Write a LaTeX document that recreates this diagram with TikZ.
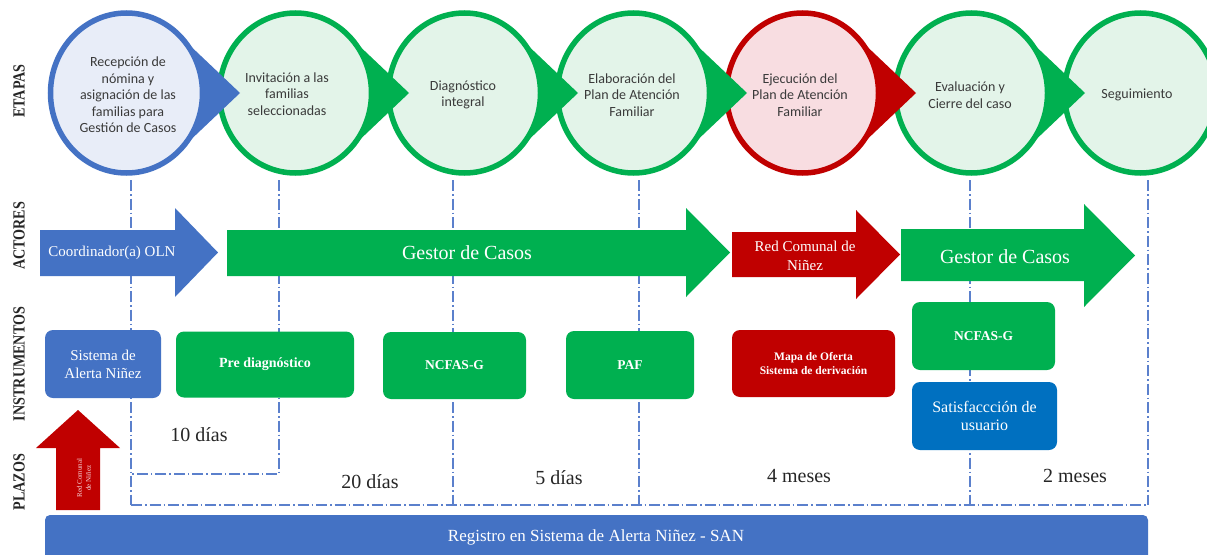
\documentclass[tikz,border=0pt]{standalone}
\usepackage{fontspec}
\setmainfont{Liberation Serif}
\newfontfamily\cali{Carlito}
\usetikzlibrary{shapes.geometric,calc}
\definecolor{bl}{HTML}{4472C4}
\definecolor{gr}{HTML}{00B050}
\definecolor{rd}{HTML}{C00000}
\definecolor{sb}{HTML}{0070C0}
\definecolor{bll}{HTML}{E8EDF8}
\definecolor{grl}{HTML}{E3F4E9}
\definecolor{rdl}{HTML}{F8DDE1}
\definecolor{txt}{HTML}{3A3A3A}
\definecolor{dl}{HTML}{5B80CC}
\definecolor{dark}{HTML}{262626}
\begin{document}
\begin{tikzpicture}[x=1pt,y=-1pt,
  stage/.style={ellipse, draw, line width=5.5pt, minimum width=152pt, minimum height=160pt, inner sep=0pt},
  stxt/.style={font=\cali\fontsize{14}{16.5}\selectfont, text=txt, align=center},
  guide/.style={dl, line width=1.3pt, dash pattern=on 11pt off 3pt on 1.5pt off 3pt},
  inst/.style={rectangle, rounded corners=8pt, inner sep=0pt, text=white, align=center},
  lab/.style={rotate=90, font=\bfseries\fontsize{17}{17}\selectfont, text=dark},
  plazo/.style={font=\fontsize{20}{20}\selectfont, text=dark},
  actor/.style={text=white, align=center}
]
\useasboundingbox (0,0) rectangle (1207,554);
\fill[white] (0,0) rectangle (1207,554);

% guide lines (behind)
\coordinate (g1t) at (131,180); \coordinate (g1b) at (131,505);
\coordinate (g2t) at (279,180); \coordinate (g2b) at (279,474); \coordinate (g2e) at (131,474);
\coordinate (g3t) at (453,180); \coordinate (g3b) at (453,505);
\coordinate (g4t) at (639,180); \coordinate (g4b) at (639,505);
\coordinate (g5t) at (970,180); \coordinate (g5b) at (970,505);
\coordinate (g6t) at (1148,180); \coordinate (g6b) at (1148,505);
\draw[guide] (g1t) -- (g1b);
\draw[guide] (g2t) -- (g2b) -- (g2e);
\draw[guide] (g3t) -- (g3b);
\draw[guide] (g4t) -- (g4b);
\draw[guide] (g5t) -- (g5b);
\draw[guide] (g6t) -- (g6b);
\draw[guide] (g1b) -- (g6b);

% stages
\node[stage, draw=gr, fill=grl] (s7) at (1140.5,93) {};
\node[stage, draw=gr, fill=grl] (s6) at (971.5,93) {};
\node[stage, draw=rd, fill=rdl] (s5) at (802.5,93) {};
\node[stage, draw=gr, fill=grl] (s4) at (633.5,93) {};
\node[stage, draw=gr, fill=grl] (s3) at (464.5,93) {};
\node[stage, draw=gr, fill=grl] (s2) at (295.5,93) {};
\node[stage, draw=bl, fill=bll] (s1) at (126.5,93) {};
\foreach \i/\c in {1/bl,2/gr,3/gr,4/gr,5/rd,6/gr}{
  \fill[\c] ($(s\i.center)+(50.85,59.45)$) -- ($(s\i.center)+(113.5,0)$) -- ($(s\i.center)+(50.85,-59.45)$)
     arc[start angle=-48, end angle=48, x radius=76, y radius=80];
}
\node[stxt] (t1) at (128,95) {Recepción de\\nómina y\\asignación de las\\familias para\\Gestión de Casos};
\node[stxt] (t2) at (287,94) {Invitación a las\\familias\\seleccionadas};
\node[stxt] (t3) at (463,95) {Diagnóstico\\integral};
\node[stxt] (t4) at (632,95) {Elaboración del\\Plan de Atención\\Familiar};
\node[stxt] (t5) at (800,95) {Ejecución del\\Plan de Atención\\Familiar};
\node[stxt] (t6) at (970,95) {Evaluación y\\Cierre del caso};
\node[stxt] (t7) at (1137,95) {Seguimiento};

% actors
\fill[bl] (40,230)--(175,230)--(175,208)--(218,252.5)--(175,297)--(175,276)--(40,276)--cycle;
\fill[gr] (227,230)--(686,230)--(686,208)--(730,252.5)--(686,297)--(686,276)--(227,276)--cycle;
\fill[rd] (732,232)--(856,232)--(856,210)--(900,254.5)--(856,299)--(856,277)--(732,277)--cycle;
\fill[gr] (901,229)--(1084,229)--(1084,204)--(1135,255.5)--(1084,307)--(1084,281)--(901,281)--cycle;
\node[actor, font=\fontsize{15}{15}\selectfont] (a1) at (112,253) {Coordinador(a) OLN};
\node[actor, font=\fontsize{20}{20}\selectfont] (a2) at (467,253) {Gestor de Casos};
\node[actor, font=\fontsize{15}{19}\selectfont] (a3) at (805,255.5) {Red Comunal de\\Niñez};
\node[actor, font=\fontsize{20}{20}\selectfont] (a4) at (1005,257) {Gestor de Casos};

% instruments
\node[inst, fill=bl, minimum width=116pt, minimum height=68pt, font=\fontsize{15}{18}\selectfont] (i1) at (103,364) {Sistema de\\Alerta Niñez};
\node[inst, fill=gr, minimum width=178pt, minimum height=66pt, font=\bfseries\fontsize{14}{17}\selectfont] (i2) at (265,364.5) {Pre diagnóstico};
\node[inst, fill=gr, minimum width=143pt, minimum height=67pt, font=\bfseries\fontsize{13.5}{17}\selectfont] (i3) at (454.5,365.5) {NCFAS-G};
\node[inst, fill=gr, minimum width=128pt, minimum height=68pt, font=\bfseries\fontsize{13.5}{17}\selectfont] (i4) at (630,365) {PAF};
\node[inst, fill=rd, minimum width=163pt, minimum height=67pt, font=\bfseries\fontsize{11.5}{14}\selectfont] (i5) at (813.5,363.5) {Mapa de Oferta\\Sistema de derivación};
\node[inst, fill=gr, minimum width=143pt, minimum height=68pt, font=\bfseries\fontsize{13.5}{17}\selectfont] (i6) at (983.5,336) {NCFAS-G};
\node[inst, fill=sb, minimum width=145pt, minimum height=68pt, font=\fontsize{16}{18}\selectfont] (i7) at (984.5,416) {Satisfaccción de\\usuario};

% red up arrow
\fill[rd] (56,510)--(56,448)--(36,448)--(78,410)--(120,448)--(100,448)--(100,510)--cycle;
\node[rotate=90, text=rdl, align=center, font=\fontsize{7}{9}\selectfont] (ra) at (84,478) {Red Comunal\\de Niñez};

% plazos
\node[plazo] (p1) at (199,435) {10 días};
\node[plazo] (p2) at (370,482) {20 días};
\node[plazo] (p3) at (559,478) {5 días};
\node[plazo] (p4) at (799,476) {4 meses};
\node[plazo] (p5) at (1075,476) {2 meses};

% bottom bar
\fill[bl, rounded corners=5pt] (45,515) rectangle (1148,575);
\node[text=white, font=\fontsize{17}{17}\selectfont] (san) at (596,537) {Registro en Sistema de Alerta Niñez - SAN};

% row labels
\node[lab] (l1) at (19,91) {\scalebox{0.83}[1]{ETAPAS}};
\node[lab] (l2) at (19,236) {\scalebox{0.83}[1]{ACTORES}};
\node[lab] (l3) at (19,364) {\scalebox{0.83}[1]{INSTRUMENTOS}};
\node[lab] (l4) at (19,482) {\scalebox{0.83}[1]{PLAZOS}};
\end{tikzpicture}
\end{document}
